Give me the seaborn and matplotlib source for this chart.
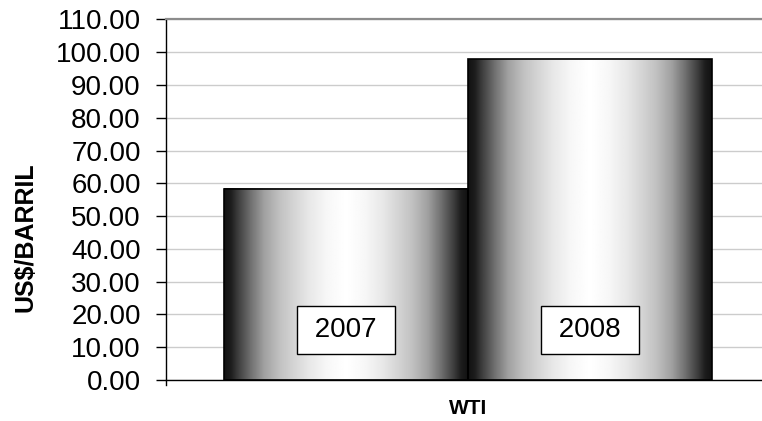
import numpy as np
import pandas as pd
import matplotlib
matplotlib.use("Agg")
import matplotlib.pyplot as plt
import seaborn as sns
from matplotlib.ticker import FormatStrFormatter

# data
series = ["WTI", "WTI"]
years = ["2007", "2008"]
prices = [58.4, 97.8]
y_ticks = [0, 10, 20, 30, 40, 50, 60, 70, 80, 90, 100, 110]

df = pd.DataFrame({"serie": series, "anio": years, "precio": prices})

sns.set_style("white")
plt.rcParams["font.family"] = ["Liberation Sans", "DejaVu Sans"]
plt.rcParams["text.color"] = "black"
plt.rcParams["axes.labelcolor"] = "black"
plt.rcParams["xtick.color"] = "black"
plt.rcParams["ytick.color"] = "black"

fig = plt.figure(figsize=(7.62, 4.21), dpi=100)
ax = fig.add_axes([166 / 762, 0.0979, 610 / 762, 0.8558])

sns.barplot(
    data=df, x="serie", y="precio", hue="anio", hue_order=years,
    width=0.8, edgecolor="black", linewidth=1.2, legend=False,
    palette=["white", "white"], errorbar=None, ax=ax,
)

# cylinder-like shading: dark at the edges, white in the middle
stop_t = [0.0, 0.06, 0.125, 0.22, 0.33, 0.45, 0.55, 0.70, 0.85, 1.0]
stop_g = [0.07, 0.12, 0.26, 0.44, 0.63, 0.75, 0.82, 0.91, 0.97, 1.0]
u = (np.arange(240) + 0.5) / 240
t = 1 - np.abs(2 * u - 1)
shade = np.interp(t, stop_t, stop_g)[np.newaxis, :]

for patch, year in zip(ax.patches, years):
    x0 = patch.get_x()
    w = patch.get_width()
    h = patch.get_height()
    ax.imshow(shade, cmap="gray", vmin=0, vmax=1, aspect="auto",
              interpolation="bilinear", extent=[x0, x0 + w, 0, h], zorder=1.5)
    patch.set_facecolor("none")
    patch.set_zorder(2)
    ax.text(x0 + w / 2, 15.2, " " + year + " ", ha="center", va="center",
            fontsize=20, color="black", zorder=3,
            bbox=dict(boxstyle="square,pad=0.38", fc="white", ec="black", lw=1.0))

ax.set_xlim(-0.495, 0.505)
ax.set_ylim(0, 110)
ax.set_yticks(y_ticks)
ax.yaxis.set_major_formatter(FormatStrFormatter("%.2f"))

ax.set_axisbelow(True)
ax.grid(axis="y", color="#cccccc", linewidth=1.0)
ax.grid(axis="x", visible=False)

for side in ["left", "bottom"]:
    ax.spines[side].set_color("black")
    ax.spines[side].set_linewidth(1.0)
ax.spines["left"].set_bounds(-1.6, 110)
ax.spines["top"].set_color("#8c8c8c")
ax.spines["top"].set_linewidth(1.6)
ax.spines["right"].set_visible(False)

ax.tick_params(axis="y", direction="out", length=7.2, width=1.0, color="black",
               pad=11, labelsize=20, left=True)
ax.tick_params(axis="x", length=0, pad=14, labelsize=15)
for lbl in ax.get_xticklabels():
    lbl.set_fontweight("bold")

ax.set_xlabel("")
ax.set_ylabel("US$/BARRIL", fontsize=18, fontweight="bold")
ax.yaxis.set_label_coords(-0.21, 0.395)

fig.savefig("out.png", dpi=100)
